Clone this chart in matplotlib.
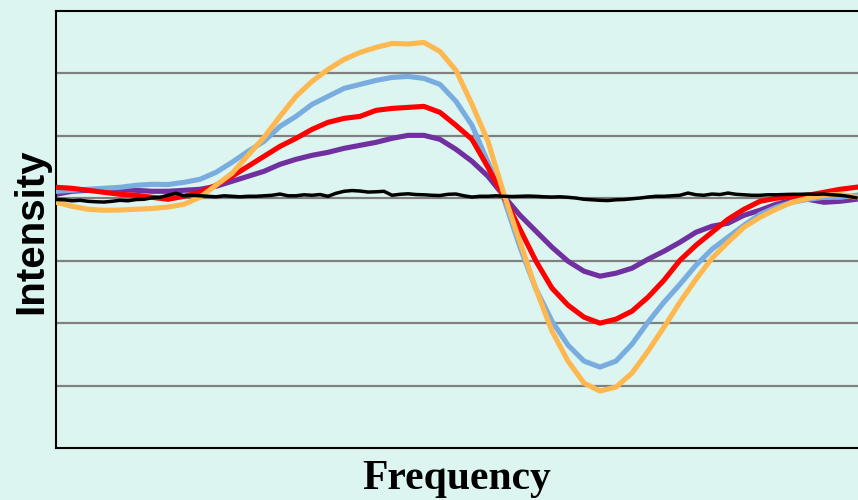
import numpy as np
import matplotlib.pyplot as plt

# frequency samples (arbitrary units) and intensity of each trace
freq = np.arange(0, 801, 16)
freq_fine = np.arange(0, 801, 8)

orange = [-3.2, -6.4, -8.8, -9.6, -9.4, -8.8, -8.2, -7.0, -4.8, 0.8,
          10.4, 20.0, 34.4, 48.8, 65.6, 81.6, 93.6, 103.2, 111.2, 116.8,
          120.8, 124.0, 123.6, 124.8, 117.6, 102.4, 75.2, 45.6, 3.2, -35.2,
          -72.8, -106.4, -130.4, -148.0, -154.4, -151.2, -140.0, -122.4, -103.2, -83.2,
          -64.8, -48.0, -35.2, -23.2, -15.2, -8.8, -3.2, 0.0, 2.4, 3.2, 0.8]

blue = [5.6, 6.4, 7.2, 8.0, 8.8, 10.4, 11.2, 11.0, 12.8, 15.2,
        20.8, 28.8, 37.6, 45.6, 57.6, 65.6, 75.2, 81.6, 88.0, 91.2,
        94.4, 96.8, 97.6, 96.0, 91.2, 77.6, 58.4, 28.8, -0.8, -39.2,
        -72.8, -98.4, -117.6, -130.4, -135.2, -130.4, -116.8, -99.2, -83.2, -68.8,
        -53.6, -40.8, -31.2, -21.6, -12.8, -7.2, -3.2, -0.8, 0.8, 0.8, 2.4]

red = [8.8, 8.0, 6.4, 4.8, 3.2, 2.4, 0.8, -0.8, 1.6, 4.8,
       10.4, 17.6, 25.6, 33.6, 41.6, 48.0, 55.2, 60.8, 64.0, 65.6,
       70.4, 72.0, 72.8, 73.6, 68.8, 58.4, 47.2, 24.8, 0.8, -24.8,
       -50.4, -72.0, -85.6, -95.2, -100.0, -96.8, -90.4, -79.2, -65.6, -49.6,
       -37.6, -27.2, -16.8, -8.8, -2.4, 0.0, 1.6, 2.4, 4.8, 7.2, 8.8]

purple = [3.2, 5.6, 6.4, 7.2, 7.2, 6.4, 5.6, 5.6, 6.4, 7.2,
          9.6, 13.6, 17.6, 21.6, 27.2, 31.2, 34.4, 36.8, 40.0, 42.4,
          44.8, 48.0, 50.4, 50.4, 47.2, 39.2, 29.6, 17.6, 1.6, -13.6,
          -26.4, -39.2, -50.4, -58.4, -62.4, -60.0, -56.0, -48.8, -42.4, -35.2,
          -27.2, -22.4, -20.0, -13.6, -9.6, -4.8, -1.6, -0.8, -3.2, -2.4, -0.8]

# the flat reference trace is sampled twice as finely
black = [-1.0, -1.2, -2.0, -1.6, -2.4, -2.8, -3.0, -2.4, -1.6, -2.0,
         -1.0, -0.8, 0.4, 0.8, 2.4, 4.0, 2.0, 2.4, 2.0, 1.6,
         1.2, 2.0, 1.6, 1.2, 1.6, 1.6, 2.0, 2.4, 3.4, 2.0,
         2.0, 2.8, 2.4, 3.0, 1.6, 4.0, 5.6, 6.2, 5.8, 5.0,
         5.2, 5.6, 2.4, 3.2, 3.6, 3.0, 2.8, 2.4, 2.2, 3.2,
         3.4, 2.0, 1.0, 1.6, 1.6, 2.0, 1.6, 1.4, 1.6, 1.8,
         1.6, 1.2, 1.0, 1.2, 0.8, 0.2, -0.8, -1.2, -1.6, -1.8,
         -1.2, -1.0, -0.4, 0.2, 1.0, 1.6, 1.6, 2.0, 2.4, 4.2,
         2.8, 2.4, 3.4, 3.0, 4.2, 3.2, 2.8, 2.4, 2.4, 2.8,
         2.8, 3.0, 3.2, 3.2, 3.4, 3.2, 3.4, 2.8, 2.4, 1.6,
         0.4]

bg = '#ddf5f0'

fig = plt.figure(figsize=(8.58, 5.0), dpi=100, facecolor=bg)
ax = fig.add_axes([56 / 858, 52 / 500, 1 - 56 / 858, 437 / 500])
ax.set_facecolor(bg)

for y in [-150, -100, -50, 0, 50, 100]:
    ax.axhline(y, color='#808080', lw=1.6, zorder=1)

ax.plot(freq, purple, color='#7030a0', lw=3.7, zorder=2)
ax.plot(freq, blue, color='#7aaddf', lw=3.7, zorder=3)
ax.plot(freq, red, color='#ff0000', lw=3.7, zorder=4)
ax.plot(freq, orange, color='#ffb74f', lw=3.7, zorder=5)
ax.plot(freq_fine, black, color='black', lw=2.5, zorder=6)

ax.set_xlim(0, 802)
ax.set_ylim(-200, 150)
ax.set_xticks([])
ax.set_yticks([])
ax.spines['right'].set_visible(False)
for s in ['left', 'top', 'bottom']:
    ax.spines[s].set_linewidth(1.5)
    ax.spines[s].set_color('black')

fig.text(31 / 858, 1 - 231 / 500, 'Intensity', rotation=90, ha='center', va='center',
         fontsize=29, fontweight='bold', family='Liberation Sans')
fig.text(457 / 858, 1 - 489 / 500, 'Frequency', ha='center', va='baseline',
         fontsize=30, fontweight='bold', family='Liberation Serif')

fig.savefig('out.png', dpi=100, facecolor=bg)
